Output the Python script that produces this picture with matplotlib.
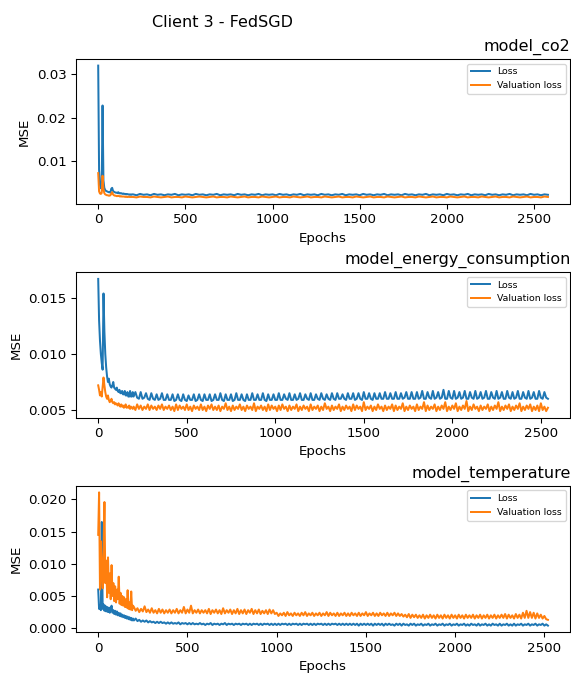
import matplotlib
matplotlib.use("Agg")
import matplotlib.pyplot as plt
import numpy as np

# values in units of 1e-4 (MSE)
# head: epochs 0..195 every 5 epochs, tail: every 20 (co2) or 10 epochs
co2_loss_head = [320, 80, 45, 38, 36, 228, 55, 38, 33, 31, 30, 29, 28, 28, 27, 36, 38, 31, 29, 28,
                 27, 27, 26, 28, 26, 25, 26, 25, 24, 25, 24, 24, 23, 24, 23, 23, 22, 23, 22, 23]
co2_val_head = [72, 30, 25, 24, 26, 66, 35, 26, 23, 22, 21, 21, 20, 20, 21, 25, 28, 23, 21, 20,
                20, 19, 19, 20, 19, 18, 19, 18, 18, 18, 18, 17, 18, 17, 17, 18, 17, 17, 17, 17]
co2_loss_tail = [23, 21, 24, 22, 23, 21, 24, 22, 23, 21, 23, 22, 24, 21, 23, 22, 23, 21, 24, 22,
                 23, 21, 23, 22, 24, 21, 23, 22, 23, 21, 24, 22, 23, 21, 23, 22, 24, 21, 23, 22,
                 23, 21, 24, 22, 23, 21, 23, 22, 24, 21, 23, 22, 23, 21, 24, 22, 23, 21, 23, 22,
                 24, 21, 23, 22, 23, 21, 24, 22, 23, 21, 23, 22, 24, 21, 23, 22, 23, 21, 24, 22,
                 23, 21, 23, 22, 24, 21, 23, 22, 23, 21, 24, 22, 23, 21, 23, 22, 24, 21, 23, 22,
                 23, 21, 24, 22, 23, 21, 23, 22, 24, 21, 23, 22, 23, 21, 24, 22, 23, 21, 23, 22]
co2_val_tail = [17, 16, 18, 17, 17, 16, 18, 17, 16, 17, 18, 16, 17, 17, 16, 18, 17, 16, 17, 18,
                17, 16, 17, 18, 16, 17, 17, 16, 18, 17, 16, 17, 18, 16, 17, 17, 16, 18, 17, 16,
                17, 18, 16, 17, 17, 16, 18, 17, 16, 17, 18, 16, 17, 17, 16, 18, 17, 16, 17, 18,
                16, 17, 17, 16, 18, 17, 16, 17, 18, 16, 17, 17, 16, 18, 17, 16, 17, 18, 16, 17,
                17, 16, 18, 17, 16, 17, 18, 16, 17, 17, 16, 18, 17, 16, 17, 18, 16, 17, 17, 16,
                18, 17, 16, 17, 18, 16, 17, 17, 16, 18, 17, 16, 17, 18, 16, 17, 17, 16, 18, 17]

energy_loss_head = [167, 130, 112, 100, 92, 86, 154, 120, 100, 88, 80, 75, 78, 73, 71, 70, 72, 75, 70, 69,
                    68, 70, 67, 66, 68, 65, 65, 67, 64, 64, 67, 63, 63, 66, 62, 62, 67, 62, 62, 66]
energy_val_head = [72, 68, 63, 66, 62, 70, 79, 72, 66, 62, 60, 63, 59, 57, 58, 60, 57, 56, 57, 55,
                   56, 55, 54, 56, 54, 53, 55, 53, 54, 52, 53, 55, 52, 53, 52, 54, 51, 53, 52, 51]
energy_loss_tail = [62, 66, 61, 60, 66, 60, 61, 65, 60, 59, 65, 60, 59, 64, 59, 60, 65, 59, 59, 64,
                    59, 59, 64, 58, 59, 64, 59, 58, 64, 59, 58, 63, 59, 59, 64, 58, 59, 64, 59, 58,
                    64, 59, 59, 64, 58, 59, 64, 59, 59, 65, 59, 58, 64, 59, 59, 64, 58, 59, 65, 59,
                    59, 64, 59, 58, 64, 59, 59, 65, 59, 59, 64, 59, 59, 65, 59, 58, 64, 59, 59, 64,
                    59, 59, 65, 59, 59, 64, 60, 59, 65, 59, 59, 64, 59, 60, 65, 59, 59, 64, 60, 59,
                    65, 59, 59, 64, 60, 59, 65, 60, 59, 64, 60, 59, 65, 60, 59, 65, 60, 60, 64, 60,
                    59, 65, 60, 60, 65, 59, 60, 65, 60, 59, 66, 60, 60, 65, 60, 59, 65, 60, 60, 65,
                    60, 60, 66, 60, 60, 65, 60, 60, 66, 60, 60, 65, 60, 61, 66, 60, 60, 66, 60, 60,
                    66, 60, 61, 67, 60, 60, 66, 61, 60, 67, 60, 61, 66, 60, 61, 68, 60, 60, 67, 61,
                    60, 67, 60, 61, 66, 60, 61, 67, 60, 60, 66, 61, 60, 67, 60, 61, 66, 60, 61, 67,
                    60, 60, 66, 61, 60, 67, 60, 61, 66, 60, 60, 67, 61, 60, 66, 60, 61, 67, 60, 60,
                    66, 61, 60, 67, 60, 61, 66, 60, 60, 67, 61, 60, 66, 61, 60]
energy_val_tail = [53, 50, 55, 51, 54, 50, 53, 51, 55, 50, 54, 51, 53, 50, 54, 51, 55, 50, 53, 51,
                   54, 50, 53, 49, 55, 50, 54, 51, 53, 50, 55, 50, 53, 49, 54, 51, 53, 50, 55, 50,
                   53, 49, 54, 51, 55, 50, 53, 50, 54, 49, 53, 51, 56, 50, 53, 49, 54, 50, 53, 51,
                   55, 50, 53, 49, 54, 51, 53, 50, 56, 49, 53, 51, 54, 50, 53, 49, 55, 50, 54, 51,
                   53, 49, 54, 50, 55, 51, 53, 49, 54, 50, 53, 51, 55, 49, 53, 50, 54, 51, 53, 49,
                   55, 50, 53, 51, 54, 49, 53, 50, 56, 51, 53, 49, 54, 50, 53, 51, 55, 49, 53, 50,
                   54, 51, 53, 49, 55, 50, 54, 51, 53, 49, 57, 50, 53, 51, 54, 49, 53, 50, 55, 51,
                   53, 49, 54, 50, 53, 51, 55, 49, 54, 50, 53, 51, 56, 49, 53, 50, 54, 51, 53, 49,
                   55, 50, 53, 51, 57, 49, 54, 50, 53, 51, 55, 49, 53, 50, 54, 51, 57, 49, 53, 50,
                   54, 51, 56, 49, 53, 50, 54, 51, 58, 49, 53, 50, 55, 51, 53, 49, 54, 50, 53, 51,
                   55, 49, 53, 50, 54, 51, 57, 49, 53, 50, 54, 51, 55, 49, 53, 50, 54, 51, 56, 49,
                   53, 50, 54, 51, 55, 49, 53, 50, 54, 49, 56, 50, 53, 49, 52]

temp_loss_head = [60, 30, 36, 28, 165, 30, 37, 27, 35, 26, 33, 25, 32, 24, 30, 35, 24, 28, 22, 27,
                  21, 26, 20, 24, 19, 23, 18, 21, 17, 20, 16, 19, 15, 18, 14, 17, 13, 16, 12, 15]
temp_val_head = [145, 211, 60, 135, 90, 62, 120, 196, 70, 105, 48, 110, 55, 85, 45, 98, 50, 70, 42, 65,
                 40, 60, 45, 80, 38, 55, 36, 50, 35, 48, 33, 45, 32, 59, 30, 40, 29, 57, 28, 35]
temp_loss_tail = [12, 15, 11, 13, 10, 12, 10, 12, 9, 11, 9, 10, 8, 10, 8, 10, 8, 9, 7, 9,
                  7, 9, 7, 8, 7, 9, 6, 8, 7, 8, 6, 8, 6, 8, 6, 7, 6, 8, 6, 7,
                  5, 7, 6, 8, 5, 7, 6, 7, 5, 7, 6, 8, 5, 7, 6, 7, 5, 7, 6, 7,
                  5, 7, 6, 7, 5, 7, 5, 7, 6, 7, 5, 7, 5, 7, 6, 7, 5, 7, 5, 7,
                  5, 7, 5, 7, 6, 7, 5, 7, 5, 7, 6, 7, 5, 7, 5, 7, 6, 7, 5, 7,
                  5, 7, 5, 7, 6, 7, 5, 7, 5, 7, 5, 7, 6, 7, 5, 7, 5, 7, 5, 7,
                  5, 7, 5, 7, 5, 7, 4, 7, 5, 7, 5, 7, 5, 7, 4, 7, 5, 7, 5, 7,
                  4, 7, 5, 7, 5, 6, 4, 7, 5, 7, 4, 7, 5, 6, 4, 7, 5, 7, 4, 6,
                  5, 7, 4, 6, 5, 7, 4, 6, 5, 7, 4, 6, 5, 7, 4, 6, 5, 7, 4, 6,
                  5, 7, 4, 6, 5, 7, 4, 6, 4, 7, 5, 6, 4, 7, 4, 6, 5, 7, 4, 6,
                  4, 7, 5, 6, 4, 7, 4, 6, 5, 7, 4, 6, 4, 7, 4, 6, 5, 7, 4, 6,
                  5, 7, 4, 6, 5, 7, 4, 6, 5, 7, 4, 6, 4]
temp_val_tail = [33, 27, 31, 25, 30, 26, 34, 25, 29, 24, 31, 24, 28, 23, 30, 24, 29, 23, 28, 24,
                 29, 23, 28, 24, 30, 23, 28, 24, 33, 23, 29, 24, 35, 23, 28, 24, 29, 23, 28, 24,
                 28, 23, 30, 22, 28, 24, 29, 23, 28, 22, 31, 23, 28, 24, 29, 22, 28, 23, 30, 22,
                 28, 23, 29, 22, 28, 24, 30, 22, 28, 23, 29, 22, 27, 23, 28, 22, 29, 23, 28, 22,
                 24, 19, 23, 20, 24, 19, 25, 20, 23, 19, 24, 20, 23, 19, 24, 20, 25, 19, 23, 20,
                 24, 19, 23, 20, 24, 19, 23, 20, 25, 19, 24, 20, 23, 19, 24, 19, 23, 20, 24, 19,
                 23, 19, 24, 20, 23, 19, 24, 19, 23, 20, 25, 19, 23, 20, 24, 19, 23, 19, 24, 20,
                 23, 19, 24, 19, 23, 20, 24, 19, 23, 19, 22, 18, 21, 17, 22, 16, 21, 17, 21, 16,
                 20, 16, 21, 15, 20, 16, 21, 16, 20, 15, 21, 16, 20, 15, 21, 16, 20, 15, 21, 16,
                 20, 15, 21, 16, 20, 15, 21, 16, 20, 16, 21, 15, 20, 16, 21, 15, 20, 16, 21, 15,
                 20, 16, 21, 15, 20, 16, 21, 16, 22, 15, 21, 16, 20, 15, 22, 16, 21, 15, 24, 16,
                 27, 16, 25, 16, 24, 15, 23, 16, 21, 15, 19, 14, 13]

panels = [
    ("model_co2", co2_loss_head + co2_loss_tail, co2_val_head + co2_val_tail, 20),
    ("model_energy_consumption", energy_loss_head + energy_loss_tail, energy_val_head + energy_val_tail, 10),
    ("model_temperature", temp_loss_head + temp_loss_tail, temp_val_head + temp_val_tail, 10),
]

# axes boxes (figure fraction): left, bottom, width, height
boxes = [
    [0.1326, 0.6969, 0.8664, 0.2154],
    [0.1326, 0.3793, 0.8664, 0.2161],
    [0.1326, 0.0605, 0.8664, 0.2178],
]

fig = plt.figure(figsize=(571 / 96, 673 / 96), dpi=96)
fig.suptitle("Client 3 - FedSGD", x=0.389, y=0.977, fontsize=12)

for (name, loss, val, step), box in zip(panels, boxes):
    n_tail = len(loss) - 40
    epochs = np.concatenate([np.arange(0, 200, 5), 200 + step * np.arange(n_tail)])
    ax = fig.add_axes(box)
    ax.plot(epochs, np.array(loss) * 1e-4, label="Loss")
    ax.plot(epochs, np.array(val) * 1e-4, label="Valuation loss")
    ax.set_title(name, loc="right")
    ax.set_xlabel("Epochs")
    ax.set_ylabel("MSE")
    ax.legend(loc="upper right", fontsize=7)

fig.savefig("out.png", dpi=96)
